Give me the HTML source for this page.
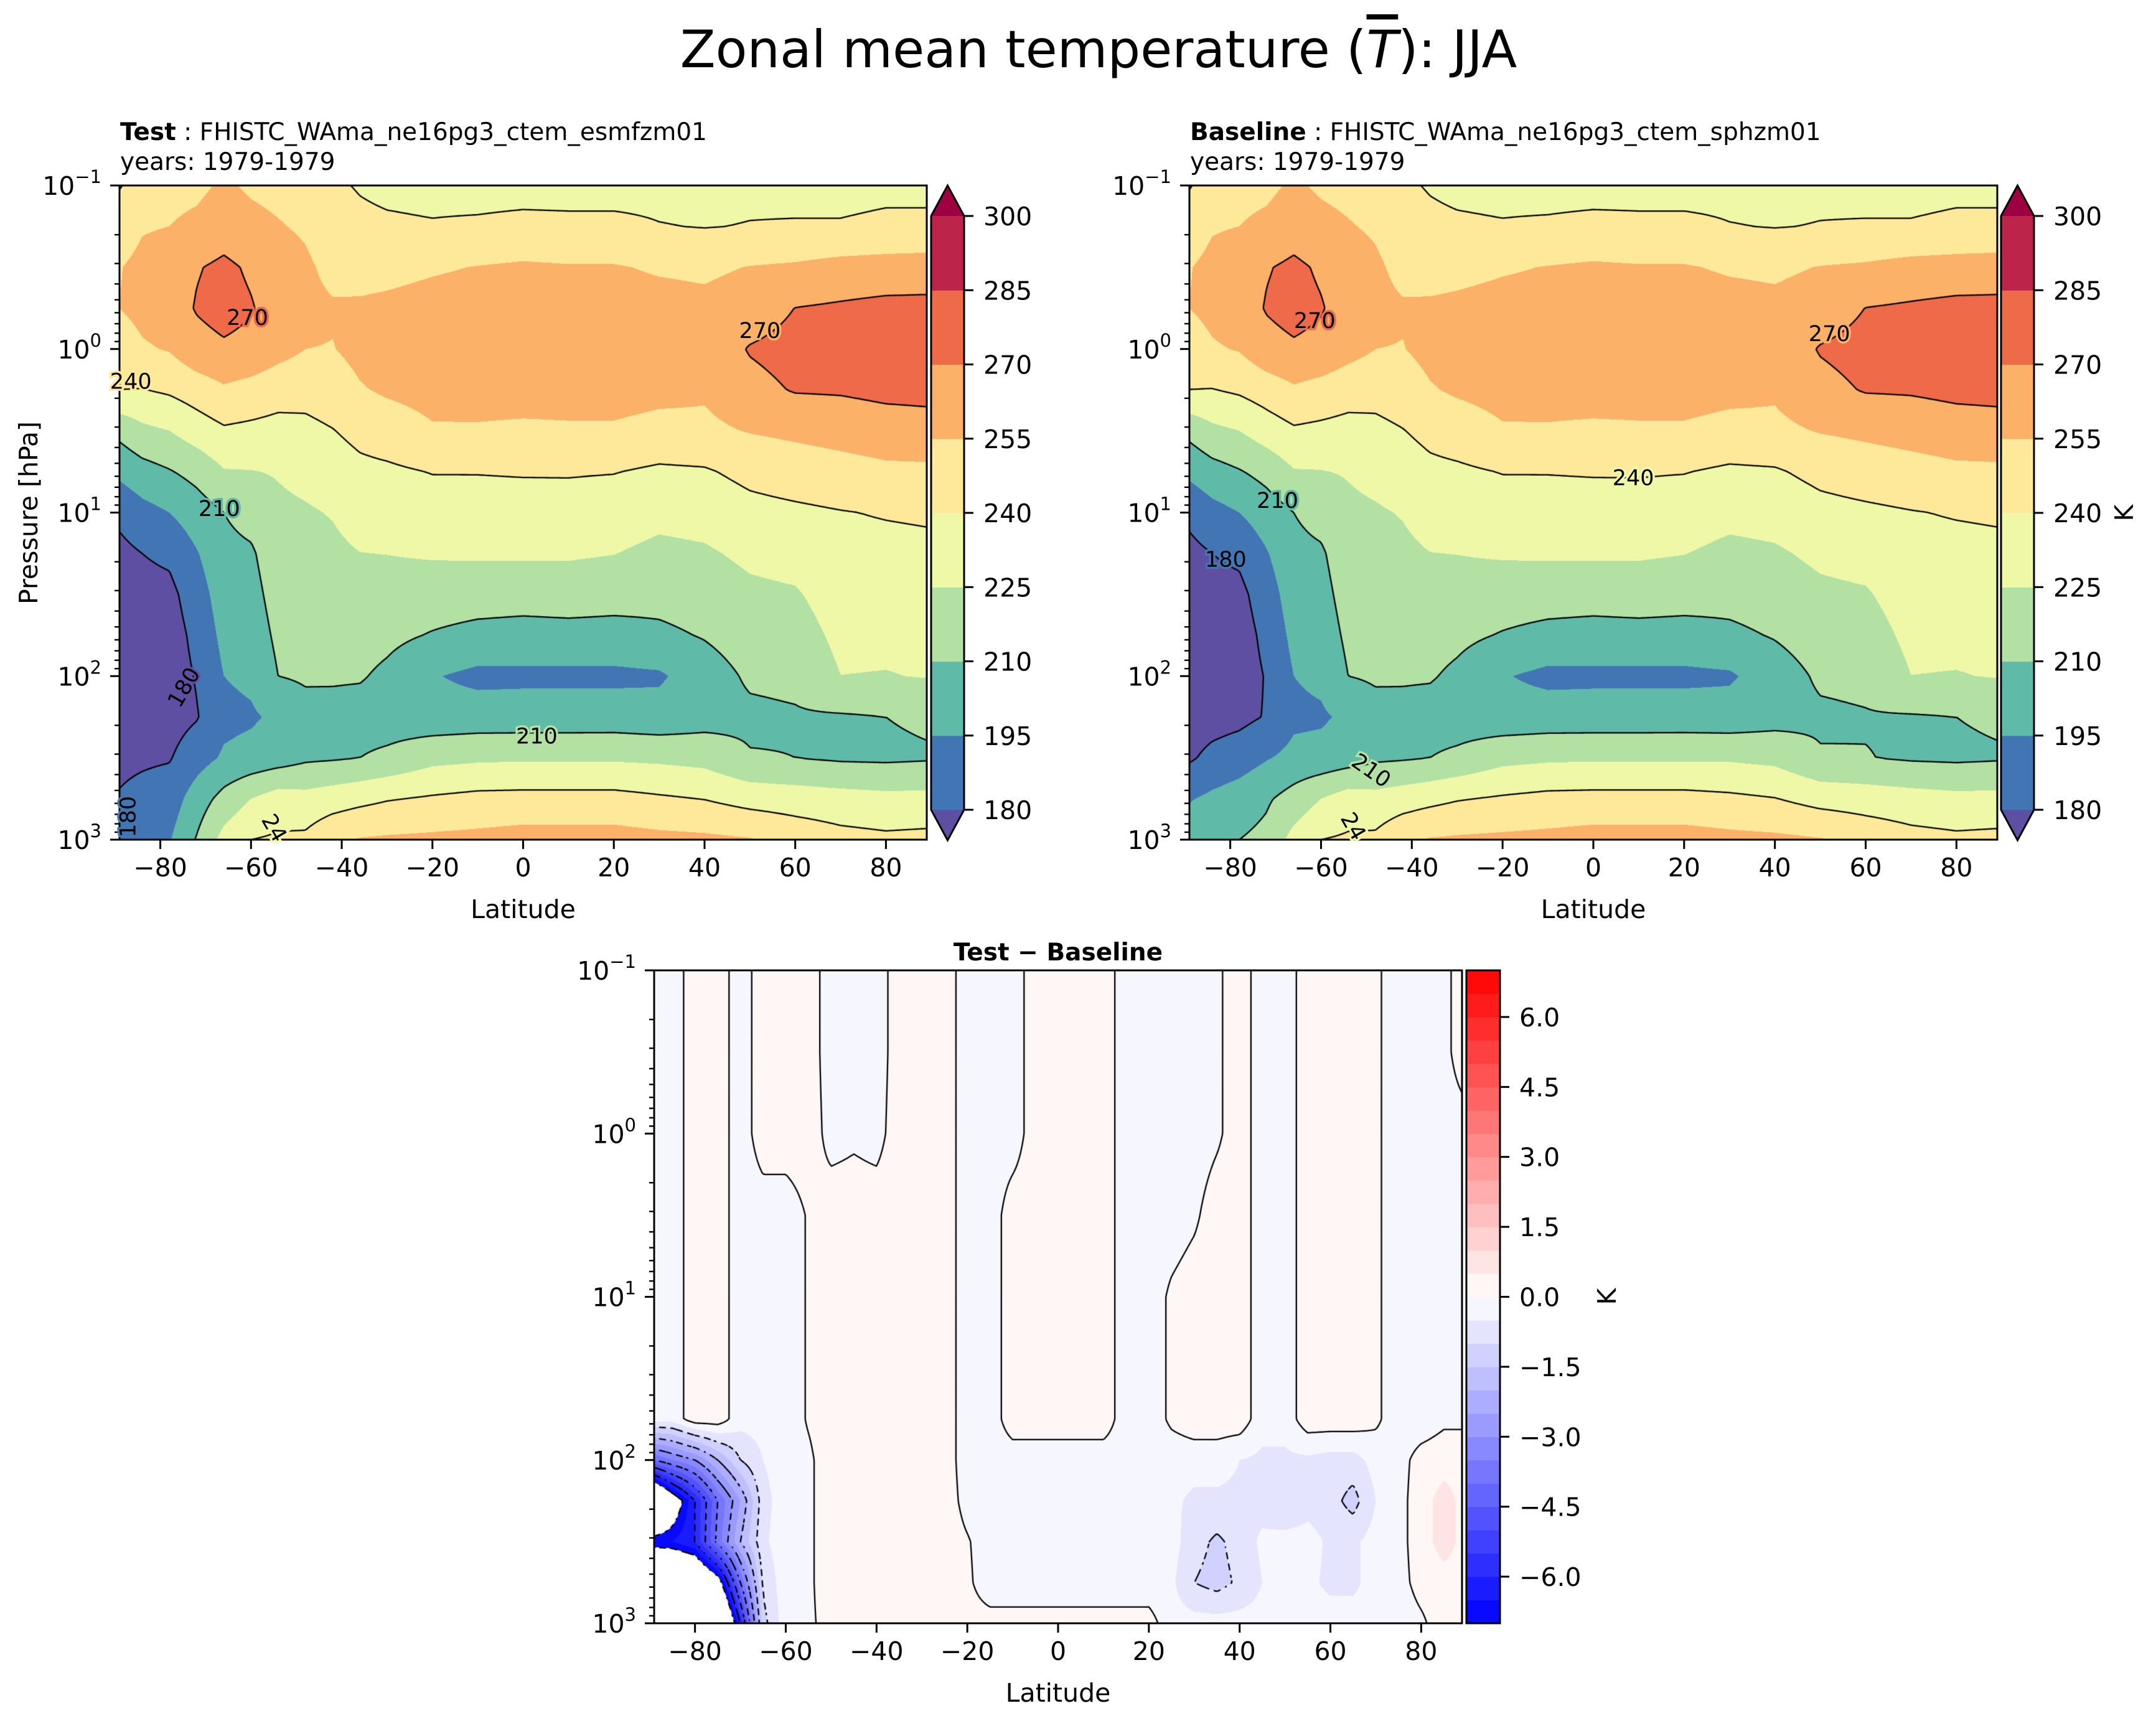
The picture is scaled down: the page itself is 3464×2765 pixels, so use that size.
<!DOCTYPE html>
<html><head><meta charset="utf-8">
<style>
body{margin:0;background:#fff;width:3464px;height:2765px;position:relative;overflow:hidden;font-family:"DejaVu Sans","Liberation Sans",sans-serif}
canvas{position:absolute}
svg{position:absolute;left:0;top:0}
</style></head>
<body>
<canvas id="cv-test" style="left:192px;top:298px" width="1297" height="1051"></canvas>
<canvas id="cv-base" style="left:1911px;top:298px" width="1298" height="1051"></canvas>
<canvas id="cv-diff" style="left:1051px;top:1559px" width="1298" height="1049"></canvas>
<svg id="ov" width="3464" height="2765"></svg>
<script>
// ---------- DATA ----------
const LAT_T = [-89,-84,-78,-72,-66,-60,-54,-48,-42,-36,-30,-20,-10,0,10,20,30,40,50,60,70,80,89];
const LOGP_T = [-1,-0.75,-0.5,-0.25,0,0.25,0.5,0.75,1,1.25,1.5,1.75,2,2.25,2.5,2.75,3];
// temperature [K], one row per latitude, columns = LOGP_T
const testT = [
[239,249,254.5,255,247.5,240,214.3,198.3,183.5,176,172,170,170,172,177,181,180],
[247,254,258,259,253.3,239.5,221.6,204.3,190,180,175,172,172,174,178,184,187],
[251,255,261,263,256,242.2,225,209,195,183,176,173,172.5,174,179,187,194],
[252,258,269,271,265,247.2,232.2,214.7,202.7,194,188,184,181,179,188.6,202.3,211],
[257,263,273,275,268,253,238,224,210,206,202.5,199,195,191,197,215,230],
[253,259,268,271,266,249.8,236.6,224.5,215.3,208,205,202,198,193,200,225,240],
[251,256,262,264,260,246.2,235,226,222,219,216,213,210,198,203,232,242],
[248,253,257.5,259,255,245,236.3,229,223.5,220.5,217.6,214.7,211.8,205,207.5,230,243],
[242,246,251,256.5,254.5,247.7,239.5,232.6,225.8,222,218.5,215.1,211.7,205,208.5,233,252],
[239,243,250,257,259,253.8,244,236.5,230.6,224.8,220.3,215.8,211.3,204,210,236,256],
[237,242,251,258,262,257,247.2,237.5,231.4,225.2,219.5,213.6,207,203,213,239,257],
[236,241,253.5,260,263,260,253.5,240.5,233.5,226.4,217.9,209,196,201,220.6,241.8,258],
[235,242,255.5,261,263,260.5,253.5,240.5,234,226.8,217.1,205.4,191.5,201.8,222.5,244.2,259],
[235,243.5,257,261,263,261,252.4,241,233.9,226.9,216.6,204.1,192,201.8,223,244.7,261],
[235,243,256,261,263,261,253,241,234.5,226.6,217.8,204.4,192,201.8,223,244.7,261],
[235,243,256,261,263,261,253,240.5,232.5,225.3,216.5,204,192,202,223,244.7,261],
[236,240.5,253.5,260,262,259,250.4,237.6,229,221.5,214.8,207,193,200.6,222,242,259],
[236,239.5,252.5,258.5,261,257,251.7,238.5,230.5,223.1,217,211,203,204,220,239.6,258],
[237,240.5,255.5,262,271,265.7,255.8,243.9,235.5,228,222,217,212.2,207,211,234.5,256],
[236,241,257,270.2,275,271,258.1,247,237.4,230.2,223.6,218.5,213.4,208.5,210,232.5,250],
[236,241,260,272,278,271.5,260.6,249.3,239.4,235.8,232.1,228.5,224.9,208.5,208,230.6,245],
[237,242.5,261,274,279,273.5,263.2,251.9,240.9,236.1,232.2,228.3,224.4,210,207.5,229,243],
[237,242.5,262,274,279,274,264.3,252.1,241.7,236.9,233.2,229.5,225.7,212,208.5,229.3,244]
];
const baseT = [
[239,249,254.5,255,247.5,240,214.3,198.3,183.5,176,172,170,170,172,178,194,203],
[247,254,258,259,253.3,239.5,221.6,204.3,190,180,175,172,172,174,184,198,208],
[251,255,261,263,256,242.2,225,209,195,183,176,173,172.5,176,188,202,210],
[252,258,269,271,265,247.2,232.2,214.7,202.7,194,188,184,181,181,194,208,214],
[257,263,273,275,268,253,238,224,210,206,202.5,199,195,192,199,216,230],
[253,259,268,271,266,249.8,236.6,224.5,215.3,208,205,202,198,193,200,225,240],
[251,256,262,264,260,246.2,235,226,222,219,216,213,210,198,203,232,242],
[248,253,257.5,259,255,245,236.3,229,223.5,220.5,217.6,214.7,211.8,205,207.5,230,243],
[242,246,251,256.5,254.5,247.7,239.5,232.6,225.8,222,218.5,215.1,211.7,205,208.5,233,252],
[239,243,250,257,259,253.8,244,236.5,230.6,224.8,220.3,215.8,211.3,204,210,236,256],
[237,242,251,258,262,257,247.2,237.5,231.4,225.2,219.5,213.6,207,203,213,239,257],
[236,241,253.5,260,263,260,253.5,240.5,233.5,226.4,217.9,209,196,201,220.6,241.8,258],
[235,242,255.5,261,263,260.5,253.5,240.5,234,226.8,217.1,205.4,191.5,201.8,222.5,244.2,259],
[235,243.5,257,261,263,261,252.4,241,233.9,226.9,216.6,204.1,192,201.8,223,244.7,261],
[235,243,256,261,263,261,253,241,234.5,226.6,217.8,204.4,192,201.8,223,244.7,261],
[235,243,256,261,263,261,253,240.5,232.5,225.3,216.5,204,192,202,223,244.7,261],
[236,240.5,253.5,260,262,259,250.4,237.6,229,221.5,214.8,207,193,201.5,223,243,259],
[236,239.5,252.5,258.5,261,257,251.7,238.5,230.5,223.1,217,211,203,204.5,221,240.5,258],
[237,240.5,255.5,262,271,265.7,255.8,243.9,235.5,228,222,217,212.2,207.6,211.3,234.8,256],
[236,241,257,270.2,275,271,258.1,247,237.4,230.2,223.6,218.5,213.4,209,210.5,233,250],
[236,241,260,272,278,271.5,260.6,249.3,239.4,235.8,232.1,228.5,224.9,208.8,208.3,230.9,245],
[237,242.5,261,274,279,273.5,263.2,251.9,240.9,236.1,232.2,228.3,224.4,210,207.5,229,243],
[237,242.5,262,274,279,274,264.3,252.1,241.7,236.9,233.2,229.5,225.7,212,208.5,229.3,244]
];
const LAT_D = [-89,-85,-80,-75,-70,-65,-60,-55,-50,-45,-40,-35,-30,-25,-20,-15,-10,-5,0,5,10,15,20,25,30,35,40,45,50,55,60,65,70,75,80,85,89];
const LOGP_D = [-1,-0.5,0,0.5,1,1.5,1.75,2,2.25,2.5,2.75,3];
// Test - Baseline [K], one row per pressure level, columns = LAT_D
const diffT = [
[-.3,-.3,.3,.3,-.3,.3,.3,.3,-.3,-.3,-.3,.3,.3,.3,-.3,-.3,-.3,.3,.3,.3,.3,-.3,-.3,-.3,-.3,-.1,.3,-.3,-.3,.3,.3,.3,.1,-.3,-.3,-.2,.3],
[-.3,-.3,.3,.3,-.3,.3,.3,.3,-.3,-.3,-.3,.3,.3,.3,-.3,-.3,-.3,.3,.3,.3,.3,-.3,-.3,-.3,-.3,-.1,.3,-.3,-.3,.3,.3,.3,.1,-.3,-.3,-.2,.3],
[-.3,-.3,.3,.3,-.3,.3,.3,.3,-.2,-.1,-.2,.3,.3,.3,-.3,-.3,-.3,.3,.3,.3,.3,-.3,-.3,-.3,-.3,-.1,.3,-.3,-.3,.3,.3,.3,.1,-.3,-.3,-.3,-.3],
[-.3,-.3,.3,.3,-.3,-.3,-.3,.05,.3,.3,.3,.3,.3,.3,-.3,-.3,.3,.3,.3,.3,.3,-.3,-.3,-.3,-.1,.3,.3,-.3,-.3,.3,.3,.3,.1,-.3,-.3,-.3,-.3],
[-.3,-.3,.3,.3,-.3,-.3,-.3,.05,.3,.3,.3,.3,.3,.3,-.3,-.3,.3,.3,.3,.3,.3,-.3,-.3,.1,.3,.3,.3,-.3,-.3,.3,.3,.3,.1,-.3,-.3,-.3,-.3],
[-.3,-.3,.3,.3,-.3,-.3,-.3,.05,.3,.3,.3,.3,.3,.3,-.3,-.3,.3,.3,.3,.3,.3,-.3,-.3,.1,.3,.3,.3,-.3,-.3,.3,.3,.3,.1,-.3,-.3,-.3,-.3],
[-.3,-.3,.3,.3,-.3,-.3,-.3,.05,.3,.3,.3,.3,.3,.3,-.3,-.3,.3,.3,.3,.3,.3,-.3,-.3,.1,.3,.3,.3,-.3,-.3,.3,.3,.3,.1,-.3,-.3,-.1,-.1],
[-4,-3.5,-3,-2,-1,-.5,-.2,-.1,.3,.3,.3,.3,.3,.3,-.3,-.3,-.3,-.3,-.3,-.3,-.3,-.3,-.3,-.3,-.3,-.3,-.5,-.6,-.6,-.6,-.7,-.7,-.3,-.2,.2,.3,.3],
[-9.5,-7.8,-6,-4,-2.5,-.7,-.2,-.1,.3,.3,.3,.3,.3,.3,-.2,-.3,-.3,-.3,-.3,-.3,-.3,-.3,-.3,-.4,-.6,-.6,-.6,-.7,-1.0,-.7,-.8,-1.2,-.5,-.2,.3,.7,.4],
[-6.6,-6.5,-6,-3.8,-2,-.6,-.2,-.1,.3,.3,.3,.3,.3,.3,.05,-.3,-.3,-.3,-.3,-.3,-.3,-.3,-.3,-.3,-.8,-1.1,-.8,-.4,-.3,-.3,-.6,-.6,-.3,-.2,.3,.7,.4],
[-9.5,-9.5,-9,-7.6,-4,-.9,-.2,-.1,.3,.3,.3,.3,.3,.3,.1,-.3,-.3,-.3,-.3,-.3,-.3,-.3,-.3,-.4,-1.0,-1.2,-.9,-.5,-.3,-.4,-.6,-.6,-.3,-.2,.2,.3,.3],
[-11,-11,-11,-10,-6,-1.2,-.2,-.1,.2,.2,.2,.2,.2,.2,.2,.2,.2,.2,.2,.2,.2,.2,.2,-.3,-.3,-.3,-.3,-.3,-.3,-.3,-.3,-.3,-.3,-.3,-.1,.3,.3]
];
const T_LEVELS = [180,195,210,225,240,255,270,285,300];
const T_COLORS = ['#4275b4','#5fbaa8','#b3e0a3','#eef8a7','#fee89a','#fbb167','#ee6a48','#bd2449'];
const T_UNDER = '#5e4fa2', T_OVER = '#9e0142';
const T_LINES = [180,210,240,270,300];
const T_TICKS = [180,195,210,225,240,255,270,285,300];
const D_LEVELS = [-7,-6.5,-6,-5.5,-5,-4.5,-4,-3.5,-3,-2.5,-2,-1.5,-1,-0.5,0,0.5,1,1.5,2,2.5,3,3.5,4,4.5,5,5.5,6,6.5,7];
const D_LINES = [-7,-6,-5,-4,-3,-2,-1,0,1,2,3,4,5,6,7];
const D_TICKS = [-6,-4.5,-3,-1.5,0,1.5,3,4.5,6];
const LAT_TICKS = [-80,-60,-40,-20,0,20,40,60,80];
const LOGP_TICKS = [-1,0,1,2,3];
const testLabels = [
 {t:'270',lat:-60.8,lp:-0.19,r:0},{t:'270',lat:52.2,lp:-0.11,r:0},{t:'240',lat:-86.5,lp:0.2,r:0},
 {t:'210',lat:-67,lp:0.98,r:0},{t:'180',lat:-74.7,lp:2.07,r:-60},{t:'210',lat:3,lp:2.37,r:0},
 {t:'180',lat:-87,lp:2.86,r:-90},{t:'24',lat:-55,lp:2.93,r:60}];
const baseLabels = [
 {t:'270',lat:-61.4,lp:-0.17,r:0},{t:'270',lat:52,lp:-0.09,r:0},{t:'240',lat:8.8,lp:0.79,r:0},
 {t:'210',lat:-69.6,lp:0.93,r:0},{t:'180',lat:-81,lp:1.29,r:0},{t:'210',lat:-49,lp:2.58,r:35},
 {t:'24',lat:-53,lp:2.92,r:60}];

// ---------- HELPERS ----------
const NS='http://www.w3.org/2000/svg';
const svg=document.getElementById('ov');
function el(tag,attrs,parent){const e=document.createElementNS(NS,tag);for(const k in attrs)e.setAttribute(k,attrs[k]);(parent||svg).appendChild(e);return e;}
function locate(a,v){const n=a.length;if(v<=a[0])return[0,0];if(v>=a[n-1])return[n-2,1];let i=0;while(a[i+1]<v)i++;return[i,(v-a[i])/(a[i+1]-a[i])];}
function hex(h){return[parseInt(h.slice(1,3),16),parseInt(h.slice(3,5),16),parseInt(h.slice(5,7),16)];}
function bwr(t){return t<0.5?[Math.round(510*t),Math.round(510*t),255]:[255,Math.round(510*(1-t)),Math.round(510*(1-t))];}
function rgbStr(c){return 'rgb('+c[0]+','+c[1]+','+c[2]+')';}
const T_RGB=T_COLORS.map(hex), T_UNDER_RGB=hex(T_UNDER), T_OVER_RGB=hex(T_OVER);
const D_RGB=[];for(let i=0;i<D_LEVELS.length-1;i++){const m=(D_LEVELS[i]+D_LEVELS[i+1])/2;D_RGB.push(bwr((m-D_LEVELS[0])/(D_LEVELS[D_LEVELS.length-1]-D_LEVELS[0])));}
function tColor(v){if(v<T_LEVELS[0])return T_UNDER_RGB;if(v>=T_LEVELS[T_LEVELS.length-1])return T_OVER_RGB;for(let i=0;i<T_LEVELS.length-1;i++)if(v<T_LEVELS[i+1])return T_RGB[i];return T_OVER_RGB;}
function dColor(v){if(v<D_LEVELS[0]||v>D_LEVELS[D_LEVELS.length-1])return[255,255,255];for(let i=0;i<D_LEVELS.length-1;i++)if(v<=D_LEVELS[i+1])return D_RGB[i];return[255,255,255];}
function makeField(F,lats,lps,byLat){return function(lat,lp){const[i,fx]=locate(lats,lat),[j,fy]=locate(lps,lp);
 const g=byLat?(a,b)=>F[a][b]:(a,b)=>F[b][a];
 return g(i,j)*(1-fx)*(1-fy)+g(i+1,j)*fx*(1-fy)+g(i,j+1)*(1-fx)*fy+g(i+1,j+1)*fx*fy;};}

const panels=[
 {key:'test',cv:'cv-test',x:192,y:298,w:1297,h:1051,f:makeField(testT,LAT_T,LOGP_T,true),col:tColor,lines:T_LINES,labels:testLabels},
 {key:'baseline',cv:'cv-base',x:1911,y:298,w:1298,h:1051,f:makeField(baseT,LAT_T,LOGP_T,true),col:tColor,lines:T_LINES,labels:baseLabels},
 {key:'difference',cv:'cv-diff',x:1051,y:1559,w:1298,h:1049,f:makeField(diffT,LAT_D,LOGP_D,false),col:dColor,lines:D_LINES,labels:[]}
];
const latPx=(p,lat)=>p.x+(lat+89)/178*p.w;
const lpPx=(p,lp)=>p.y+(lp+1)/4*p.h;

// ---------- FILL + CONTOUR LINES ----------
panels.forEach(p=>{
 const c=document.getElementById(p.cv),ctx=c.getContext('2d');
 const W=c.width,H=c.height,img=ctx.createImageData(W,H),d=img.data;
 for(let py=0;py<H;py++){const lp=-1+(py+0.5)/H*4;
  for(let px=0;px<W;px++){const lat=-89+(px+0.5)/W*178;const col=p.col(p.f(lat,lp));const k=(py*W+px)*4;d[k]=col[0];d[k+1]=col[1];d[k+2]=col[2];d[k+3]=255;}}
 ctx.putImageData(img,0,0);
 const s=3,nx=Math.ceil(W/s)+1,ny=Math.ceil(H/s)+1,G=[];
 for(let j=0;j<ny;j++){const row=[];const y=Math.min(j*s,H);for(let i=0;i<nx;i++){const x=Math.min(i*s,W);row.push(p.f(-89+x/W*178,-1+y/H*4));}G.push(row);}
 ctx.strokeStyle='#000';ctx.lineWidth=2.3;ctx.lineCap='round';
 p.lines.forEach(L=>{
  ctx.beginPath();
  for(let j=0;j<ny-1;j++)for(let i=0;i<nx-1;i++){
   const x0=Math.min(i*s,W),x1=Math.min((i+1)*s,W),y0=Math.min(j*s,H),y1=Math.min((j+1)*s,H);
   const a=G[j][i],b=G[j][i+1],cc=G[j+1][i+1],dd=G[j+1][i];const pts=[];
   if((a<L)!==(b<L))pts.push([x0+(L-a)/(b-a)*(x1-x0),y0]);
   if((b<L)!==(cc<L))pts.push([x1,y0+(L-b)/(cc-b)*(y1-y0)]);
   if((dd<L)!==(cc<L))pts.push([x0+(L-dd)/(cc-dd)*(x1-x0),y1]);
   if((a<L)!==(dd<L))pts.push([x0,y0+(L-a)/(dd-a)*(y1-y0)]);
   for(let k=0;k+1<pts.length;k+=2){
    const mx=(pts[k][0]+pts[k+1][0])/2,my=(pts[k][1]+pts[k+1][1])/2;
    if(L<0&&((Math.floor(mx/9)+Math.floor(my/9))%2))continue;
    ctx.moveTo(pts[k][0],pts[k][1]);ctx.lineTo(pts[k+1][0],pts[k+1][1]);}
  }
  ctx.stroke();});
});

// ---------- AXES ----------
panels.forEach(p=>{
 const g=el('g',{});
 
 
 LAT_TICKS.forEach(v=>{const x=latPx(p,v);
  const t=el('line',{x1:x,x2:x,y1:p.y+p.h,y2:p.y+p.h+15,stroke:'#000','stroke-width':3},g);
  
  
  const tx=el('text',{x:x,y:p.y+p.h+59,'text-anchor':'middle','font-size':41},g);
  
  
  tx.textContent=(v<0?'\u2212':'')+Math.abs(v);});
 for(let k=-1;k<3;k++)for(let m=2;m<10;m++){const y=lpPx(p,k+Math.log10(m));
  const t=el('line',{x1:p.x-8,x2:p.x,y1:y,y2:y,stroke:'#000','stroke-width':2.4},g);
  
  }
 LOGP_TICKS.forEach(v=>{const y=lpPx(p,v);
  const t=el('line',{x1:p.x-15,x2:p.x,y1:y,y2:y,stroke:'#000','stroke-width':3},g);
  
  
  const tx=el('text',{x:p.x-29,y:y+15,'text-anchor':'end','font-size':41},g);
  
  
  const a=el('tspan',{},tx);a.textContent='10';
  const b=el('tspan',{'font-size':29,dy:-19},tx);b.textContent=(v<0?'\u2212':'')+Math.abs(v);});
 const fr=el('rect',{x:p.x,y:p.y,width:p.w,height:p.h,fill:'none',stroke:'#000','stroke-width':3},g);
 
 
 const xl=el('text',{x:p.x+p.w/2,y:p.y+p.h+126,'text-anchor':'middle','font-size':41},g);
 
 
 xl.textContent='Latitude';
 p.labels.forEach(L=>{const x=latPx(p,L.lat),y=lpPx(p,L.lp);const bg=rgbStr(p.col(p.f(L.lat,L.lp)));
  const t=el('text',{x:x,y:y,'text-anchor':'middle','dominant-baseline':'central','font-size':35,transform:'rotate('+L.r+' '+x+' '+y+')',stroke:bg,'stroke-width':7,'paint-order':'stroke'},g);
  
  
  t.textContent=L.t;});
});

// ---------- COLORBARS ----------
function tColorbar(x,name){
 const w=53,y0=347,y1=1301,top=298,bot=1350,n=T_LEVELS.length-1,bh=(y1-y0)/n;
 const g=el('g',{});
 
 
 T_COLORS.forEach((c,i)=>{const r=el('rect',{x:x,y:y1-(i+1)*bh,width:w,height:bh+0.6,fill:c},g);
  
  });
 const o=el('polygon',{points:x+','+y0+' '+(x+w)+','+y0+' '+(x+w/2)+','+top,fill:T_OVER},g);
 
 
 const u=el('polygon',{points:x+','+y1+' '+(x+w)+','+y1+' '+(x+w/2)+','+bot,fill:T_UNDER},g);
 
 
 const ol=el('polygon',{points:x+','+y0+' '+(x+w/2)+','+top+' '+(x+w)+','+y0+' '+(x+w)+','+y1+' '+(x+w/2)+','+bot+' '+x+','+y1,fill:'none',stroke:'#000','stroke-width':3},g);
 
 
 T_TICKS.forEach(v=>{const y=y1-(v-T_LEVELS[0])/(T_LEVELS[n]-T_LEVELS[0])*(y1-y0);
  const t=el('line',{x1:x+w,x2:x+w+15,y1:y,y2:y,stroke:'#000','stroke-width':3},g);
  
  
  const tx=el('text',{x:x+w+31,y:y+15,'font-size':41},g);
  
  
  tx.textContent=v;});
}
tColorbar(1496,'test-colorbar');
tColorbar(3215,'baseline-colorbar');
(function(){
 const x=2356,w=54,y0=1559,y1=2608,n=D_LEVELS.length-1,bh=(y1-y0)/n,lo=D_LEVELS[0],hi=D_LEVELS[n];
 const g=el('g',{});
 
 
 D_RGB.forEach((c,i)=>{const r=el('rect',{x:x,y:y1-(i+1)*bh,width:w,height:bh+0.6,fill:rgbStr(c)},g);
  
  });
 const ol=el('rect',{x:x,y:y0,width:w,height:y1-y0,fill:'none',stroke:'#000','stroke-width':3},g);
 
 
 D_TICKS.forEach(v=>{const y=y1-(v-lo)/(hi-lo)*(y1-y0);
  const t=el('line',{x1:x+w,x2:x+w+15,y1:y,y2:y,stroke:'#000','stroke-width':3},g);
  
  
  const tx=el('text',{x:x+w+31,y:y+15,'font-size':41},g);
  
  
  tx.textContent=(v<0?'\u2212':'')+Math.abs(v).toFixed(1);});
})();
</script>
<svg width="3464" height="2765" style="pointer-events:none">
 <text x="1765" y="108" text-anchor="middle" font-size="83">Zonal mean temperature (<tspan font-style="italic" text-decoration="overline">T</tspan>): JJA</text>
 <text x="193" y="225" font-size="39"><tspan font-weight="bold">Test</tspan> : FHISTC_WAma_ne16pg3_ctem_esmfzm01</text>
 <text x="193" y="273" font-size="39">years: 1979-1979</text>
 <text x="1912" y="225" font-size="39"><tspan font-weight="bold">Baseline</tspan> : FHISTC_WAma_ne16pg3_ctem_sphzm01</text>
 <text x="1912" y="273" font-size="39">years: 1979-1979</text>
 <text x="1700" y="1543" text-anchor="middle" font-size="39" font-weight="bold">Test − Baseline</text>
 <text x="46" y="824" text-anchor="middle" dominant-baseline="central" font-size="41" transform="rotate(-90 46 824)">Pressure [hPa]</text>
 <text x="3413" y="824" text-anchor="middle" dominant-baseline="central" font-size="41" transform="rotate(-90 3413 824)">K</text>
 <text x="2582" y="2083" text-anchor="middle" dominant-baseline="central" font-size="41" transform="rotate(-90 2582 2083)">K</text>
</svg>
</body></html>
